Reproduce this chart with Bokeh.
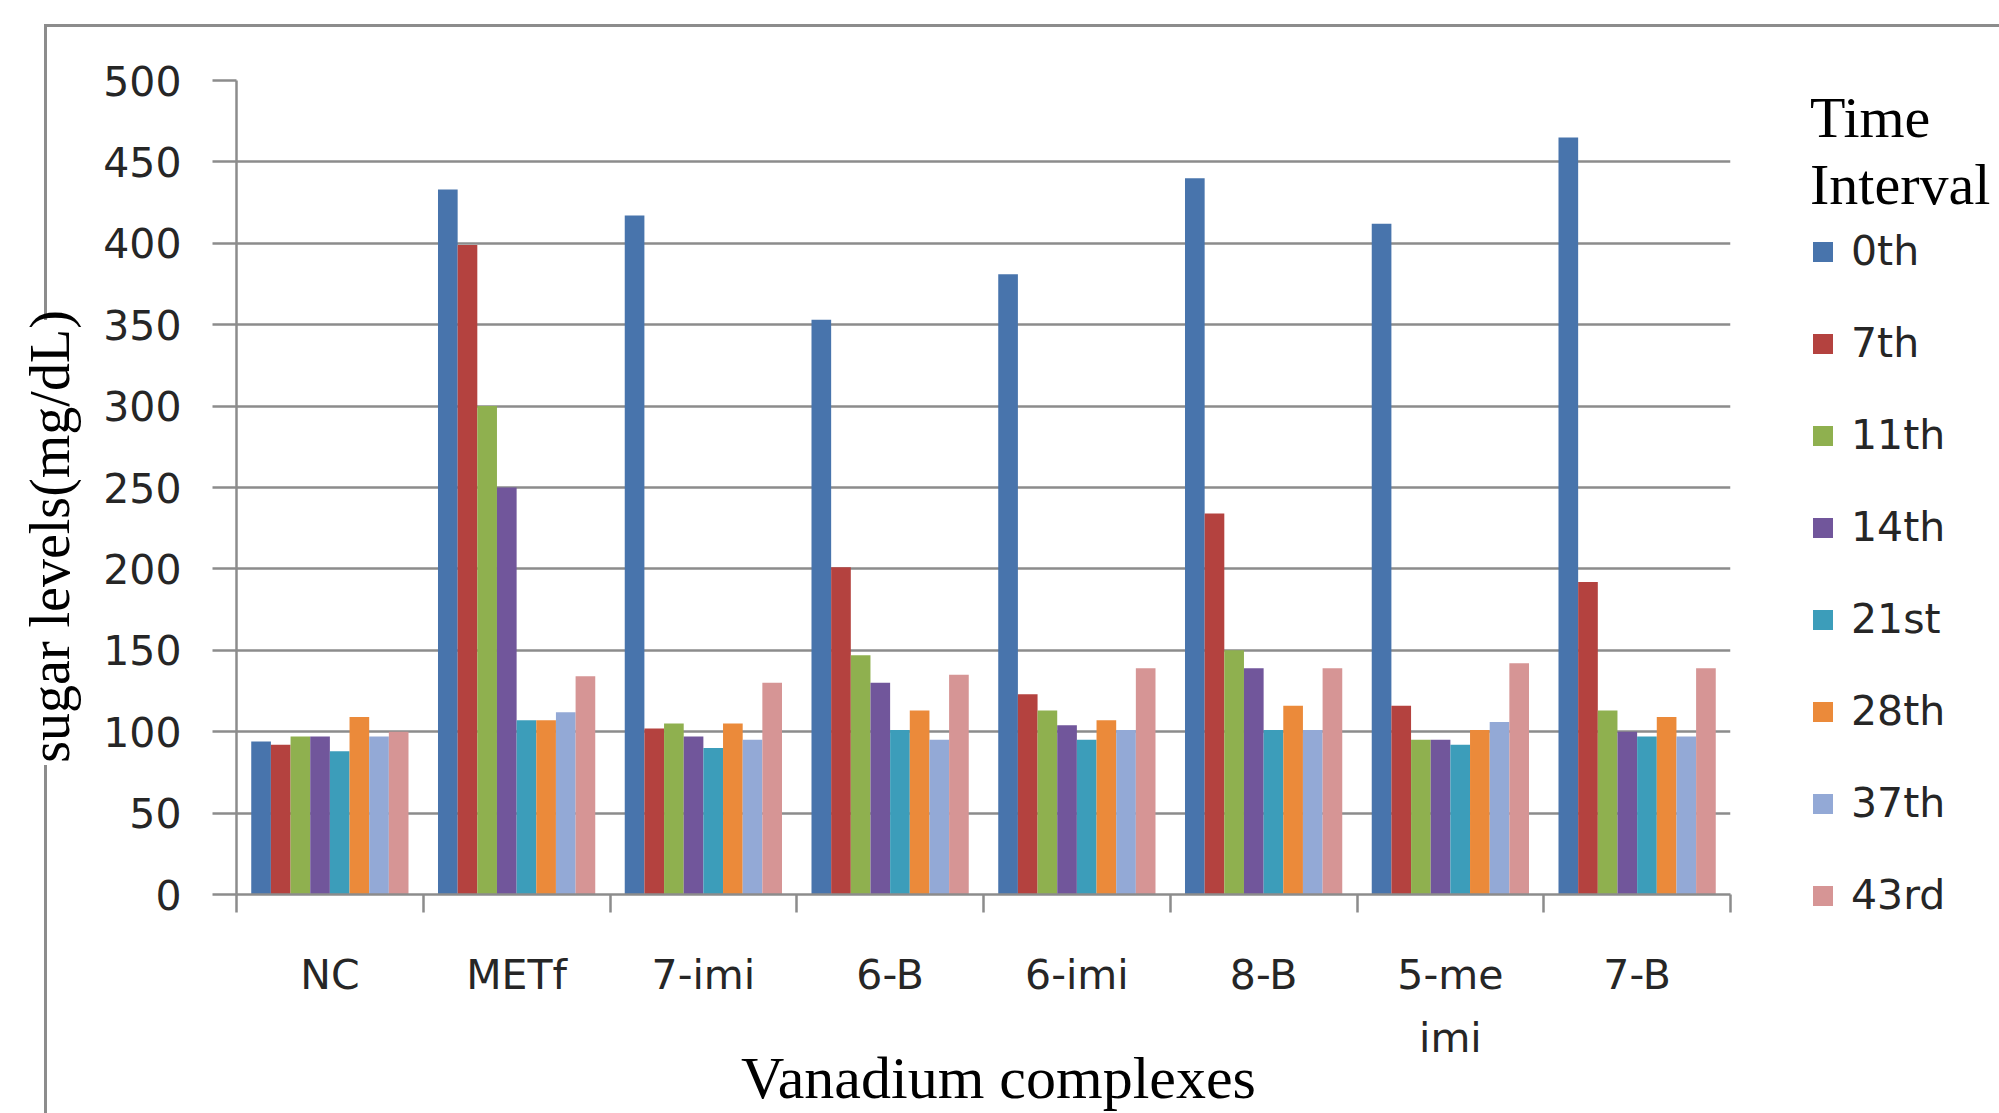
from bokeh.plotting import figure
from bokeh.models import (Range1d, FixedTicker, Legend, LegendItem,
                          ColumnDataSource)
from bokeh.embed import file_html
from bokeh.resources import INLINE

# ---- data ----
categories = ["NC", "METf", "7-imi", "6-B", "6-imi", "8-B", "5-me\nimi", "7-B"]
series = ["0th", "7th", "11th", "14th", "21st", "28th", "37th", "43rd"]
v_0th = [94, 433, 417, 353, 381, 440, 412, 465]
v_7th = [92, 399, 102, 201, 123, 234, 116, 192]
v_11th = [97, 300, 105, 147, 113, 150, 95, 113]
v_14th = [97, 250, 97, 130, 104, 139, 95, 100]
v_21st = [88, 107, 90, 101, 95, 101, 92, 97]
v_28th = [109, 107, 105, 113, 107, 116, 101, 109]
v_37th = [97, 112, 95, 95, 101, 101, 106, 97]
v_43rd = [100, 134, 130, 135, 139, 139, 142, 139]
y_ticks = [0, 50, 100, 150, 200, 250, 300, 350, 400, 450, 500]
legend_title = "Time\nInterval"
x_title = "Vanadium complexes"
y_title = "sugar levels(mg/dL)"

values = [v_0th, v_7th, v_11th, v_14th, v_21st, v_28th, v_37th, v_43rd]
colors = ["#4874AC", "#B4423F", "#8FB04F", "#71569B",
          "#3C9DBA", "#EB8A3A", "#93A9D6", "#D69595"]

GRID = "#8c8c8c"
TXT = "#262626"
NB = "\u00a0"

# frame fixed at 236..1730 x 80..894 px of the 1999x1113 page
p = figure(frame_width=1494, frame_height=814,
           output_backend="svg", toolbar_location=None,
           x_range=Range1d(0, len(categories)), y_range=Range1d(0, 500),
           min_border_left=236, min_border_right=0,
           min_border_top=80, min_border_bottom=219)
p.outline_line_color = None
p.background_fill_color = "white"
p.border_fill_alpha = 0.0
# outer chart-area border (top edge and broken left edge), behind the canvas
g = "linear-gradient(%s,%s)" % (GRID, GRID)
p.styles = {
    "background-color": "white",
    "background-image": ", ".join([g, g, g]),
    "background-size": "1960px 3px, 3px 296px, 3px 400px",
    "background-position": "44px 24px, 44px 24px, 44px 765px",
    "background-repeat": "no-repeat",
}

n = len(series)
bw = 1.0 / (n + 1.5)
items = []
for j, (name, vals) in enumerate(zip(series, values)):
    xs = [i + 0.5 + (j - (n - 1) / 2) * bw for i in range(len(categories))]
    src = ColumnDataSource(dict(x=xs, top=vals, cat=categories))
    r = p.vbar(x="x", top="top", width=bw, bottom=0, source=src,
               fill_color=colors[j], line_color=None)
    items.append(LegendItem(label=name, renderers=[r]))

# grid
p.xgrid.visible = False
p.ygrid.ticker = FixedTicker(ticks=y_ticks)
p.ygrid.grid_line_color = GRID
p.ygrid.grid_line_width = 2.5

# y axis
ya = p.yaxis[0]
ya.ticker = FixedTicker(ticks=y_ticks)
ya.axis_line_color = GRID
ya.axis_line_width = 2.5
ya.major_tick_line_color = GRID
ya.major_tick_line_width = 2.5
ya.major_tick_out = 24
ya.major_tick_in = 0
ya.minor_tick_line_color = None
ya.major_label_standoff = 31
ya.major_label_text_font = "DejaVu Sans"
ya.major_label_text_font_size = "41px"
ya.major_label_text_color = TXT
ya.axis_label = y_title + NB * 7
ya.axis_label_text_font = "Liberation Serif"
ya.axis_label_text_font_style = "normal"
ya.axis_label_text_font_size = "56px"
ya.axis_label_text_color = "black"
ya.axis_label_standoff = 19

# x axis: labels at category centres, tick marks at category boundaries
xa = p.xaxis[0]
centers = [i + 0.5 for i in range(len(categories))]
bounds = [float(i) for i in range(len(categories) + 1)]
xa.ticker = FixedTicker(ticks=centers, minor_ticks=bounds)
xa.major_label_overrides = {c: lab for c, lab in zip(centers, categories)}
xa.axis_line_color = GRID
xa.axis_line_width = 2.5
xa.major_tick_line_color = None
xa.major_tick_out = 0
xa.major_tick_in = 0
xa.minor_tick_line_color = GRID
xa.minor_tick_line_width = 2.5
xa.minor_tick_out = 18
xa.minor_tick_in = 0
xa.major_label_standoff = 38
xa.major_label_text_font = "DejaVu Sans"
xa.major_label_text_font_size = "41px"
xa.major_label_text_color = TXT
xa.major_label_text_line_height = 1.32
xa.axis_label = NB * 2 + x_title
xa.axis_label_text_font = "Liberation Serif"
xa.axis_label_text_font_style = "normal"
xa.axis_label_text_font_size = "60px"
xa.axis_label_text_color = "black"
xa.axis_label_standoff = -20

# legend in the right-hand side panel (side panels are not clipped)
legend = Legend(items=items, location=(80, -31), orientation="vertical",
                title=legend_title, title_text_font="Liberation Serif",
                title_text_font_size="58px", title_text_font_style="normal",
                title_text_color="black", title_standoff=3,
                glyph_width=25, glyph_height=25, label_height=60, spacing=32,
                padding=0, margin=0, label_standoff=16,
                border_line_color=None, background_fill_alpha=0,
                label_text_font="DejaVu Sans", label_text_font_size="41px",
                label_text_color=TXT)
p.add_layout(legend, "right")

open("out.html", "w").write(file_html(p, INLINE))
